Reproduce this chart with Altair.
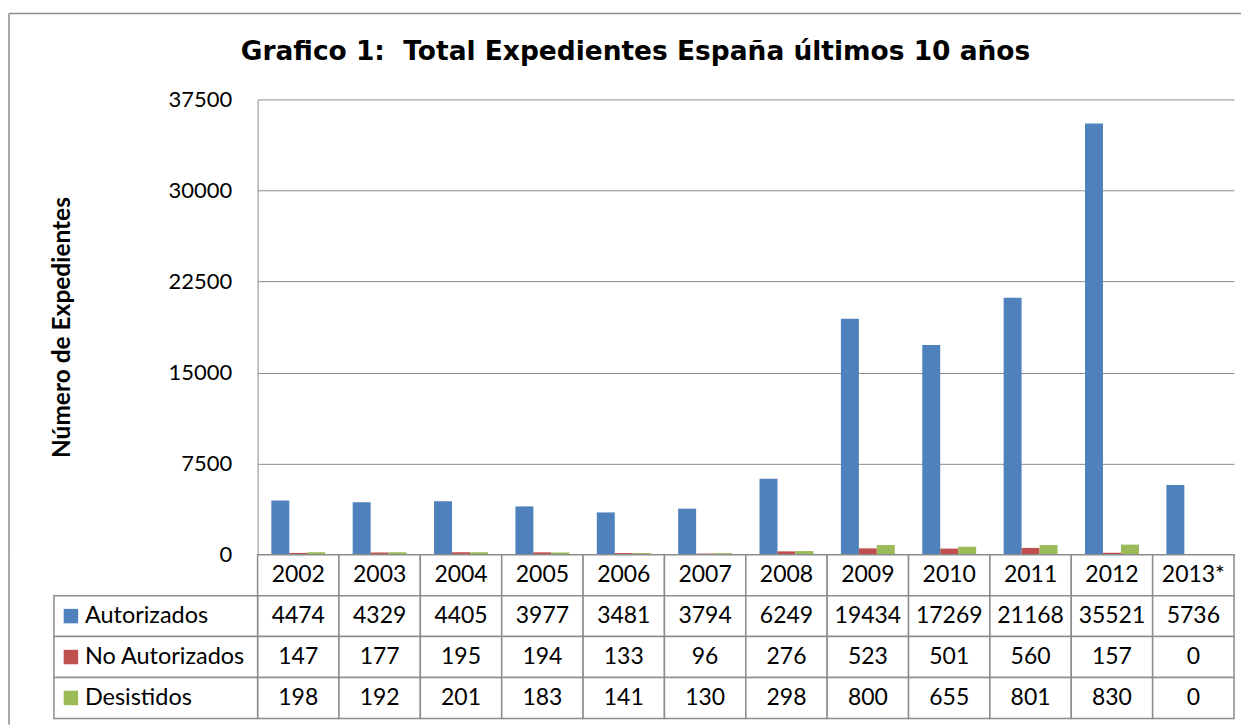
import altair as alt
import pandas as pd

years = ["2002", "2003", "2004", "2005", "2006", "2007", "2008", "2009", "2010", "2011", "2012", "2013*"]
series = ["Autorizados", "No Autorizados", "Desistidos"]
autorizados = [4474, 4329, 4405, 3977, 3481, 3794, 6249, 19434, 17269, 21168, 35521, 5736]
no_autorizados = [147, 177, 195, 194, 133, 96, 276, 523, 501, 560, 157, 0]
desistidos = [198, 192, 201, 183, 141, 130, 298, 800, 655, 801, 830, 0]
colors = ["#4F81BD", "#C0504D", "#9BBB59"]
y_ticks = [0, 7500, 15000, 22500, 30000, 37500]
title_text = "Grafico 1:\u00a0 Total Expedientes España últimos 10 años"
y_title = "Número de Expedientes"

W, H = 978, 456
ROW_H = 41
row_order = ["header"] + series
TABLE_H = ROW_H * len(row_order)
GRID = "#8c8c8c"
FONT = "Lato"

values_by_series = [autorizados, no_autorizados, desistidos]
rows = []
for s, vals in zip(series, values_by_series):
    for yr, v in zip(years, vals):
        rows.append({"year": yr, "serie": s, "value": v})
df = pd.DataFrame(rows)

tbl_rows = [{"year": yr, "row": "header", "label": yr} for yr in years]
for s, vals in zip(series, values_by_series):
    for yr, v in zip(years, vals):
        tbl_rows.append({"year": yr, "row": s, "label": str(v)})
tbl = pd.DataFrame(tbl_rows)
leg = pd.DataFrame({"row": series, "serie": series})
one = pd.DataFrame({"a": [0]})

color_scale = alt.Scale(domain=series, range=colors)

# ---- top: bar chart
bars = alt.Chart(df).mark_bar().encode(
    x=alt.X("year:N", sort=years,
            scale=alt.Scale(domain=years, paddingInner=0.3374, paddingOuter=0.1687),
            axis=None),
    xOffset=alt.XOffset("serie:N", sort=series,
                        scale=alt.Scale(domain=series, paddingInner=0, paddingOuter=0)),
    y=alt.Y("value:Q", scale=alt.Scale(domain=[0, 37500], nice=False),
            axis=alt.Axis(values=y_ticks, format="d", title=y_title,
                          labelFont=FONT, labelFontSize=22, labelColor="black",
                          labelPadding=26, ticks=False, domain=True,
                          domainColor=GRID, grid=True, gridColor=GRID,
                          titleFont=FONT, titleFontSize=24.5, titleFontWeight="bold",
                          titleColor="black", titleX=-195, titleY=228,
                          titleAngle=270, titleAlign="center", titleBaseline="middle")),
    color=alt.Color("serie:N", sort=series, scale=color_scale, legend=None),
)

title_mark = alt.Chart(pd.DataFrame({"t": [title_text]})).mark_text(
    font="DejaVu Sans", fontWeight="bold", fontSize=26.5, align="center",
    baseline="alphabetic", color="black"
).encode(text="t:N", x=alt.value(378.5), y=alt.value(-39))

frame_left_top = alt.Chart(one).mark_rule(color=GRID, strokeWidth=1.5).encode(
    x=alt.value(-249), y=alt.value(-86), y2=alt.value(H))
frame_top = alt.Chart(one).mark_rule(color=GRID, strokeWidth=1.5).encode(
    x=alt.value(-249), x2=alt.value(985), y=alt.value(-86))

top = alt.layer(frame_left_top, frame_top, bars, title_mark).properties(width=W, height=H)

# ---- bottom: data table
tx = alt.X("year:N", sort=years, scale=alt.Scale(domain=years, paddingInner=0, paddingOuter=0), axis=None)
ty = alt.Y("row:N", sort=row_order, scale=alt.Scale(domain=row_order, paddingInner=0, paddingOuter=0), axis=None)

cells = alt.Chart(tbl).mark_rect(fill="white", stroke=GRID, strokeWidth=1.5).encode(x=tx, y=ty)
cell_text = alt.Chart(tbl).mark_text(font=FONT, fontSize=23, color="black", baseline="middle").encode(
    x=tx, y=ty, text="label:N")

leg_cells = alt.Chart(leg).mark_rect(fill="white", stroke=GRID, strokeWidth=1.5).encode(
    x=alt.value(-204), x2=alt.value(0), y=ty)
leg_swatch = alt.Chart(leg).mark_square(size=210, opacity=1, filled=True).encode(
    x=alt.value(-187), y=ty,
    color=alt.Color("serie:N", sort=series, scale=color_scale, legend=None))
leg_text = alt.Chart(leg).mark_text(font=FONT, fontSize=23.5, color="black", align="left",
                                    baseline="middle").encode(
    x=alt.value(-173), y=ty, text="row:N")
frame_left_bottom = alt.Chart(one).mark_rule(color=GRID, strokeWidth=1.5).encode(
    x=alt.value(-249), y=alt.value(0), y2=alt.value(TABLE_H + 6))

table = alt.layer(frame_left_bottom, cells, cell_text, leg_cells, leg_swatch, leg_text).properties(
    width=W, height=TABLE_H)

chart = alt.vconcat(top, table, spacing=0, bounds="flush").resolve_scale(
    x="independent", y="independent"
).properties(
    padding={"left": 0, "top": 4, "right": 0, "bottom": 0},
    background="white",
).configure_view(stroke=None)

chart.save("out.html", embed_options={"renderer": "svg", "actions": False})
